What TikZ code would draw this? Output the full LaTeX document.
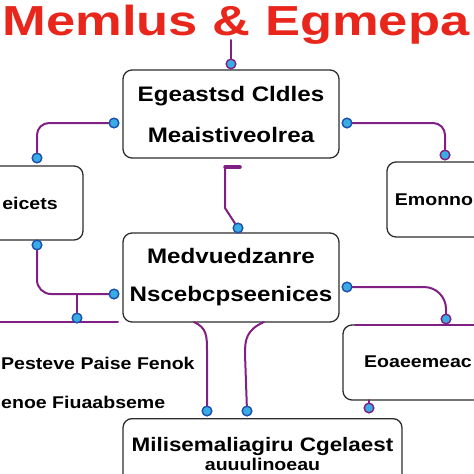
\documentclass[tikz,border=0pt]{standalone}
\usepackage{fontspec}
\setmainfont{Liberation Sans}[FakeStretch=1.15]
\newfontfamily\titlefont{Liberation Sans}[FakeStretch=1.25]
\usepackage{tikz}
\usetikzlibrary{positioning}
\definecolor{titlered}{RGB}{232,38,28}
\definecolor{linkpurple}{RGB}{128,32,130}
\definecolor{dotfill}{RGB}{58,172,228}
\definecolor{dotrim}{RGB}{30,80,176}
\definecolor{boxgray}{RGB}{45,45,45}
\tikzstyle{boxline} = [rounded corners=9pt, draw=boxgray, line width=1.3pt, fill=white]
\tikzstyle{box} = [rectangle, boxline, align=center, font=\bfseries\fontsize{21}{25}\selectfont]
\tikzstyle{boxtext} = [inner sep=0pt, font=\bfseries\fontsize{17}{20}\selectfont]
\tikzstyle{link} = [draw=linkpurple, line width=2pt, line cap=round]
\tikzstyle{dot} = [circle, inner sep=0pt, minimum size=9.5pt, fill=dotfill, draw=dotrim, line width=1.3pt]
\tikzstyle{pdot} = [dot, draw=linkpurple]

\begin{document}
\begin{tikzpicture}[x=1pt, y=-1pt, node distance=163.5pt]
\useasboundingbox (0,0) rectangle (474,474);
\clip (0,0) rectangle (474,474);

% Boxes cut by the edge of the page
\draw [boxline] (-34,166) rectangle (83,240);
\draw [boxline] (387,162) rectangle (500,237);
\draw [boxline] (343,325) rectangle (520,400);

% Nodes
\node (title) [anchor=base, text=titlered, inner sep=0pt, font=\titlefont\bfseries\fontsize{42}{42}\selectfont] at (236,35) {Memlus \& Egmepa};
\node (goals) [box, minimum width=216pt, minimum height=88pt] at (231,114) {Egeastsd Cldles\\[16pt]Meaistiveolrea};
\node (needs) [box, minimum width=216pt, minimum height=89pt, below of=goals] {Medvuedzanre\\[13pt]Nscebcpseenices};
\node (eicets) [boxtext] at (30,203) {eicets};
\node (emonno) [boxtext] at (434,200) {Emonno};
\node (eoaee) [boxtext] at (418,362) {Eoaeemeac};
\node (mili) [box, anchor=north, minimum width=279pt, inner ysep=19pt, font=\bfseries\fontsize{19.5}{23}\selectfont] at (262.5,418) {Milisemaliagiru Cgelaest\\[-4pt]{\fontsize{17}{20}\selectfont auuulinoeau}};
\node (pfeno) [anchor=north west, inner sep=0pt, align=left, font=\bfseries\fontsize{17}{20}\selectfont] at (1,357) {Pesteve Paise Fenok\\[19pt]enoe Fiuaabseme};

% Dots
\node (dtop) [pdot, above=0pt of goals.north] {};
\node (dgl) [dot] at (114,123) {};
\node (dgr) [dot] at (347,123) {};
\node (dlt) [dot] at (37,158) {};
\node (drt) [pdot] at (445,155) {};
\node (dlb) [dot] at (37,245) {};
\node (dnt) [dot] at (238,228) {};
\node (dnl) [dot] at (114,294) {};
\node (dnr) [dot] at (347,287) {};
\node (dj) [dot] at (77,318) {};
\node (drb) [pdot] at (446,319) {};
\node (db1) [dot] at (207,411) {};
\node (db2) [dot] at (247,411) {};
\node (db3) [pdot] at (369,408) {};

\coordinate (amp) at (231,40);
\coordinate (barl) at (225,167);
\coordinate (barr) at (240,167);
\coordinate (kink) at (225,208);
\coordinate (lineL) at (-5,322);
\coordinate (lineR) at (118,322);
\coordinate (nb1) at (194,322);
\coordinate (nb2) at (264,322);
\coordinate (rtopL) at (355,325);
\coordinate (rtopR) at (480,325);
\coordinate (rbot) at (369,400);

% Links
\draw [link] (amp) -- (dtop);
\draw [link, rounded corners=12pt] (dgl) -| (dlt);
\draw [link, rounded corners=12pt] (dgr) -| (drt);
\draw [link, line width=3.5pt] (barl) -- (barr);
\draw [link] (barl) -- (kink) -- (dnt);
\draw [link, rounded corners=14pt] (dlb) |- (dnl);
\draw [link] (dj) -- (dj |- dnl);
\draw [link] (lineL) -- (lineR);
\draw [link, rounded corners=22pt] (dnr) -| (drb);
\draw [link] (rtopL) -- (rtopR);
\draw [link] (nb1) .. controls (207,328) and (207,336) .. (207,352) -- (db1);
\draw [link] (nb2) .. controls (246,330) and (245,340) .. (245,354) -- (db2);
\draw [link] (db3) -- (rbot);

% dots again on top
\foreach \d in {dtop,drt,drb,db3}
  \node [pdot] at (\d) {};
\foreach \d in {dgl,dgr,dlt,dlb,dnt,dnl,dnr,dj,db1,db2}
  \node [dot] at (\d) {};

\end{tikzpicture}
\end{document}
